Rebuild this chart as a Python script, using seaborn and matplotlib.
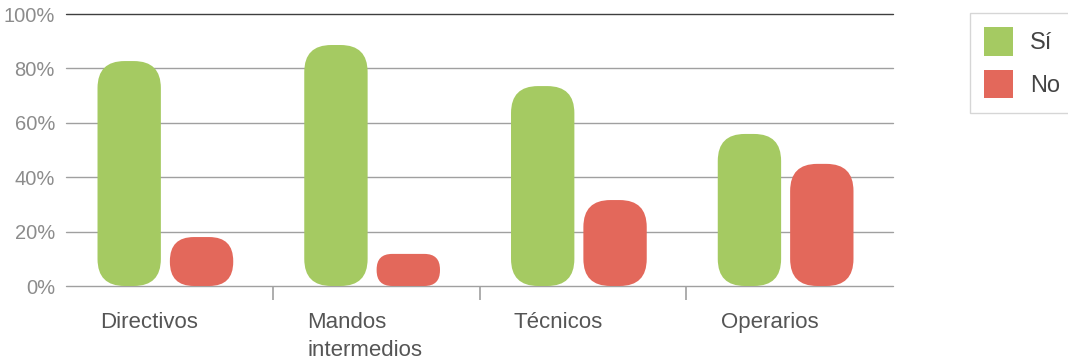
import matplotlib
matplotlib.use("Agg")
import matplotlib.pyplot as plt
import matplotlib.transforms as mtransforms
from matplotlib.patches import FancyBboxPatch, Patch
import seaborn as sns
import pandas as pd

categories = ["Directivos", "Mandos\nintermedios", "Técnicos", "Operarios"]
series_names = ["Sí", "No"]
si_values = [82.7, 88.6, 73.5, 55.9]
no_values = [18.0, 11.8, 31.6, 44.9]
y_ticks = [0, 20, 40, 60, 80, 100]
y_tick_labels = ["0%", "20%", "40%", "60%", "80%", "100%"]

colors = {"Sí": "#A5CA62", "No": "#E3685B"}

df = pd.DataFrame({
    "cat": categories * 2,
    "serie": [series_names[0]] * 4 + [series_names[1]] * 4,
    "val": si_values + no_values,
})

sns.set_theme(style="white")
plt.rcParams["font.family"] = ["Liberation Sans", "DejaVu Sans"]

W, H = 1068, 363
fig = plt.figure(figsize=(W / 100, H / 100), dpi=100)
ax = fig.add_axes([66 / W, (H - 286) / H, (893 - 66) / W, (286 - 14) / H])

sns.barplot(data=df, x="cat", y="val", hue="serie", order=categories,
            hue_order=series_names, palette=colors, width=0.7, ax=ax,
            legend=False, saturation=1, errorbar=None)

ax.set_xlim(-0.5, len(categories) - 0.5)
ax.set_ylim(0, 100)

# convert bars into rounded bars
ax_w_px = 893 - 66
ax_h_px = 286 - 14
xu_per_px = len(categories) / ax_w_px
yu_per_px = 100 / ax_h_px
aspect = yu_per_px / xu_per_px
bars = list(ax.patches)
for b in bars:
    x, w, h = b.get_x(), b.get_width(), b.get_height()
    fc = b.get_facecolor()
    b.remove()
    shrink = 4.5 * xu_per_px
    x2, w2 = x + shrink - 4 * xu_per_px, w - 2 * shrink
    h_px = h / yu_per_px
    w_px = w2 / xu_per_px
    r_px = min(27, h_px / 2 - 0.5, w_px / 2)
    fb = FancyBboxPatch((x2, 0), w2, h,
                        boxstyle=f"round,pad=0,rounding_size={r_px * xu_per_px}",
                        mutation_aspect=aspect, facecolor=fc, edgecolor="none",
                        zorder=3)
    ax.add_patch(fb)

# grid
for t in y_ticks:
    ax.axhline(t, color="#3f3f3f" if t == 100 else "#a0a0a0",
               lw=1.0, zorder=1, clip_on=False)
for s in ["top", "right", "left", "bottom"]:
    ax.spines[s].set_visible(False)

ax.set_yticks(y_ticks)
ax.set_yticklabels(y_tick_labels, fontsize=14.5, color="#8c8c8c")
ax.tick_params(axis="y", length=0, pad=8)

ax.set_xticks(range(len(categories)))
ax.set_xticklabels(categories, fontsize=16, color="#555555", ha="left",
                   linespacing=1.4, va="top")
ax.tick_params(axis="x", which="major", length=0, pad=19)
offset = mtransforms.ScaledTranslation(-0.69, 0, fig.dpi_scale_trans)
for lbl in ax.get_xticklabels():
    lbl.set_transform(lbl.get_transform() + offset)
ax.set_xticks([0.5, 1.5, 2.5], minor=True)
ax.tick_params(axis="x", which="minor", length=10, width=1.2,
               color="#a0a0a0", direction="out", bottom=True)
ax.set_xlabel("")
ax.set_ylabel("")

handles = [Patch(facecolor=colors[s], edgecolor="none") for s in series_names]
leg = fig.legend(handles, series_names, loc="upper left",
                 bbox_to_anchor=(970 / W, 1 - 13 / H), frameon=True,
                 fontsize=17, handlelength=1.2, handleheight=1.5,
                 labelspacing=0.58, handletextpad=0.75, borderpad=0.6,
                 borderaxespad=0, fancybox=False, labelcolor="#444444")
leg.get_frame().set_edgecolor("#cccccc")
leg.get_frame().set_linewidth(1.0)

fig.savefig("out.png", dpi=100)
